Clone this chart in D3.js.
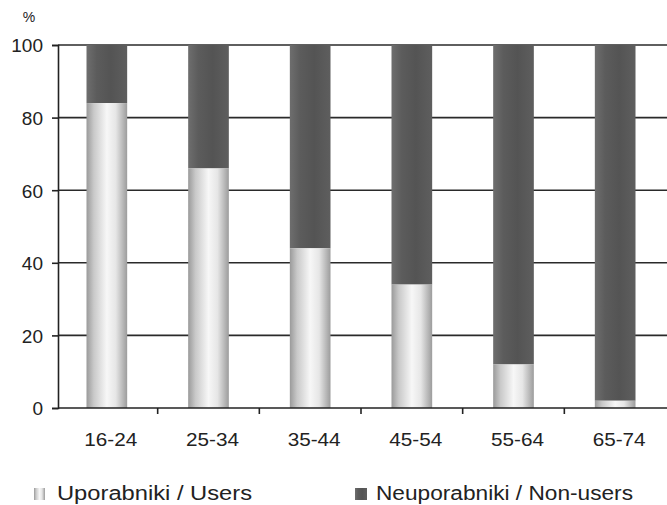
<!DOCTYPE html>
<html><head><meta charset="utf-8">
<script src="https://cdn.jsdelivr.net/npm/d3@7"></script>
<style>body{margin:0;background:#fff}svg{display:block}text{font-family:"Liberation Sans",Arial,sans-serif;fill:#222}</style>
</head><body><svg id="c" width="667" height="505"></svg>
<script>
const categories = ["16-24","25-34","35-44","45-54","55-64","65-74"];
const users = [84, 66, 44, 34, 12, 2];
const nonUsers = [16, 34, 56, 66, 88, 98];
const yTicks = [0, 20, 40, 60, 80, 100];
const seriesNames = ["Uporabniki / Users", "Neuporabniki / Non-users"];

const svg = d3.select("#c");
const defs = svg.append("defs");
const gU = defs.append("linearGradient").attr("id","gu").attr("x1","0").attr("x2","1").attr("y1","0").attr("y2","0");
[[0,"#9a9a9a"],[0.18,"#c9c9c9"],[0.5,"#f7f7f7"],[0.72,"#e6e6e6"],[1,"#9c9c9c"]].forEach(s=>gU.append("stop").attr("offset",s[0]).attr("stop-color",s[1]));
const gN = defs.append("linearGradient").attr("id","gn").attr("x1","0").attr("x2","1").attr("y1","0").attr("y2","0");
[[0,"#6e6e6e"],[0.25,"#5c5c5c"],[0.6,"#545454"],[1,"#5e5e5e"]].forEach(s=>gN.append("stop").attr("offset",s[0]).attr("stop-color",s[1]));

const x = d3.scaleBand().domain(categories).range([56, 666]).paddingInner(0.6).paddingOuter(0.3);
const y = d3.scaleLinear().domain([0,100]).range([408, 45]);

// gridlines
svg.append("g").selectAll("line").data(yTicks.filter(d=>d>0)).join("line")
  .attr("x1",58).attr("x2",667).attr("y1",d=>y(d)).attr("y2",d=>y(d))
  .attr("stroke","#2a2a2a").attr("stroke-width",1.6);

// bars
const data = categories.map((c,i)=>({c, u:users[i], n:nonUsers[i]}));
svg.append("g").selectAll("rect").data(data).join("rect")
  .attr("x",d=>x(d.c)).attr("width",x.bandwidth())
  .attr("y",d=>y(d.u+d.n)).attr("height",d=>y(d.u)-y(d.u+d.n)).attr("fill","url(#gn)");
svg.append("g").selectAll("rect").data(data).join("rect")
  .attr("x",d=>x(d.c)).attr("width",x.bandwidth())
  .attr("y",d=>y(d.u)).attr("height",d=>y(0)-y(d.u)).attr("fill","url(#gu)");

// y axis
const yAxis = d3.axisLeft(y).tickValues(yTicks).tickSize(6).tickPadding(9);
const ya = svg.append("g").attr("transform","translate(58,0)").call(yAxis);
ya.select(".domain").attr("stroke","#222").attr("stroke-width",1.6);
ya.selectAll(".tick line").attr("stroke","#222").attr("stroke-width",1.6);
ya.selectAll(".tick text").style("font-size","19px").attr("fill","#222").attr("dy","0.36em");

// x axis
svg.append("line").attr("x1",58).attr("x2",667).attr("y1",y(0)).attr("y2",y(0)).attr("stroke","#222").attr("stroke-width",1.6);
const step = x.step();
svg.append("g").selectAll("line").data(categories.slice(1)).join("line")
  .attr("x1",d=>x(d)-step*x.paddingInner()/2).attr("x2",d=>x(d)-step*x.paddingInner()/2)
  .attr("y1",y(0)).attr("y2",y(0)+6).attr("stroke","#222").attr("stroke-width",1.6);
svg.append("g").selectAll("text").data(categories).join("text")
  .attr("x",d=>x(d)+x.bandwidth()/2+4).attr("y",446).attr("text-anchor","middle")
  .attr("textLength",53).attr("lengthAdjust","spacingAndGlyphs")
  .style("font-size","19px").text(d=>d);

// % label
svg.append("text").attr("x",29).attr("y",22).attr("text-anchor","middle").style("font-size","14px").text("%");

// legend
const lg = svg.append("g");
lg.append("rect").attr("x",34).attr("y",488).attr("width",11).attr("height",12).attr("fill","url(#gu)");
lg.append("text").attr("x",57).attr("y",500).attr("textLength",195).attr("lengthAdjust","spacingAndGlyphs").style("font-size","20px").text(seriesNames[0]);
lg.append("rect").attr("x",355).attr("y",488).attr("width",12).attr("height",12).attr("fill","url(#gn)");
lg.append("text").attr("x",376).attr("y",500).attr("textLength",257).attr("lengthAdjust","spacingAndGlyphs").style("font-size","20px").text(seriesNames[1]);
</script></body></html>
